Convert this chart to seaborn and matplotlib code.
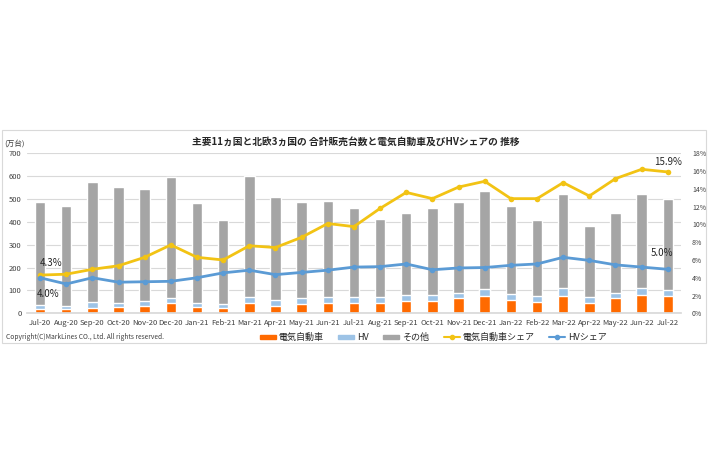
import numpy as np
import pandas as pd
import matplotlib
matplotlib.use('Agg')
import matplotlib.pyplot as plt
import matplotlib.patches as mpatches
from matplotlib.lines import Line2D
import seaborn as sns

# データ
months = ['Jul-20', 'Aug-20', 'Sep-20', 'Oct-20', 'Nov-20', 'Dec-20', 'Jan-21', 'Feb-21', 'Mar-21',
          'Apr-21', 'May-21', 'Jun-21', 'Jul-21', 'Aug-21', 'Sep-21', 'Oct-21', 'Nov-21', 'Dec-21',
          'Jan-22', 'Feb-22', 'Mar-22', 'Apr-22', 'May-22', 'Jun-22', 'Jul-22']
total = [485, 471, 573, 554, 545, 598, 481, 407, 600, 509, 487, 490, 462, 413, 440, 459, 487,
         534, 468, 410, 521, 381, 440, 521, 501]
ev = [19, 18, 24, 28, 30, 44, 28, 22, 44, 33, 41, 46, 44, 46, 55, 55, 66, 77, 58, 49, 76, 46, 66, 81, 77]
hv = [17, 15, 24, 18, 22, 22, 18, 19, 27, 27, 25, 25, 26, 24, 26, 26, 23, 29, 28, 25, 33, 26, 23, 28, 26]
ev_share = [4.3, 4.4, 4.95, 5.35, 6.3, 7.7, 6.3, 6.0, 7.6, 7.4, 8.55, 10.1, 9.75, 11.8, 13.6, 12.9,
            14.2, 14.85, 12.9, 12.9, 14.7, 13.2, 15.15, 16.2, 15.9]
hv_share = [4.0, 3.3, 4.0, 3.5, 3.55, 3.6, 4.0, 4.55, 4.85, 4.35, 4.6, 4.85, 5.2, 5.25, 5.55, 4.9,
            5.1, 5.15, 5.4, 5.55, 6.3, 5.95, 5.45, 5.2, 4.95]

df = pd.DataFrame({'month': months, 'total': total, 'ev': ev, 'hv': hv,
                   'ev_hv': np.array(ev) + np.array(hv),
                   'ev_share': ev_share, 'hv_share': hv_share})
df['pos'] = np.arange(len(df))

c_ev = '#FF6A00'
c_hv = '#9DC3E6'
c_other = '#A5A5A5'
c_evs = '#F2C314'
c_hvs = '#5B9BD5'

sns.set_theme(style='white')
plt.rcParams['font.family'] = ['Noto Sans CJK JP', 'DejaVu Sans']

fig = plt.figure(figsize=(7.1, 4.74), dpi=100)
ax = fig.add_axes([0.038, 0.339, 0.921, 0.3376])

# 積み上げ棒グラフ（合計 → EV+HV → EV の順に重ねる）
sns.barplot(data=df, x='month', y='total', color=c_other, width=0.4, saturation=1, ax=ax, zorder=2)
sns.barplot(data=df, x='month', y='ev_hv', color=c_hv, width=0.4, saturation=1, ax=ax, zorder=2)
sns.barplot(data=df, x='month', y='ev', color=c_ev, width=0.4, saturation=1, ax=ax, zorder=2)

ax.set_ylim(0, 700)
ax.set_yticks(range(0, 701, 100))
ax.set_xlim(-0.5, len(df) - 0.5)
ax.yaxis.grid(True, color='#D9D9D9', linewidth=0.8, zorder=0)
ax.set_axisbelow(True)
ax.set_xlabel('')
ax.set_ylabel('')
for s in ['top', 'right', 'left']:
    ax.spines[s].set_visible(False)
ax.spines['bottom'].set_color('#D9D9D9')
ax.tick_params(axis='both', labelsize=5.5, colors='#404040', length=0, pad=4)

# シェア（右軸）
ax2 = ax.twinx()
sns.lineplot(data=df, x='pos', y='ev_share', color=c_evs, linewidth=2, marker='o',
             markersize=4, markeredgewidth=0, ax=ax2, zorder=5)
sns.lineplot(data=df, x='pos', y='hv_share', color=c_hvs, linewidth=2, marker='o',
             markersize=4, markeredgewidth=0, ax=ax2, zorder=5)
ax2.set_ylim(0, 18)
ax2.set_yticks(range(0, 19, 2))
ax2.set_yticklabels([f'{v}%' for v in range(0, 19, 2)])
ax2.set_xlim(-0.5, len(df) - 0.5)
ax2.set_ylabel('')
ax2.set_xlabel('')
for s in ['top', 'right', 'left', 'bottom']:
    ax2.spines[s].set_visible(False)
ax2.tick_params(axis='y', labelsize=5, colors='#404040', length=0, pad=8)
ax2.grid(False)

# ラベル
lab = dict(fontsize=7, color='#262626', ha='center', va='center')
arrow = dict(arrowstyle='-', color='#A6A6A6', lw=0.6, shrinkA=0, shrinkB=3)
ax2.annotate(f'{ev_share[0]}%', xy=(0, ev_share[0]), xytext=(8, 9), textcoords='offset points',
             arrowprops=arrow, **lab)
ax2.annotate(f'{hv_share[0]:.1f}%', xy=(0, hv_share[0]), xytext=(6, -12), textcoords='offset points',
             arrowprops=arrow, **lab)
ax2.annotate(f'{ev_share[-1]}%', xy=(24, ev_share[-1]), xytext=(0, 7.5), textcoords='offset points', **lab)
ax2.annotate('5.0%', xy=(24, hv_share[-1]), xytext=(-4, 11.5), textcoords='offset points',
             arrowprops=arrow, **lab)

# タイトルなど
fig.text(0.501, 0.70, '主要11ヵ国と北欧3ヵ国の 合計販売台数と電気自動車及びHVシェアの 推移',
         ha='center', va='center', fontsize=7, fontweight='bold', color='#262626')
fig.text(0.006, 0.697, '(万台)', ha='left', va='center', fontsize=5.5, color='#404040')
fig.text(0.008, 0.288, 'Copyright(C)MarkLines CO., Ltd. All rights reserved.', ha='left', va='center',
         fontsize=4.8, color='#404040')

handles = [mpatches.Patch(color=c_ev), mpatches.Patch(color=c_hv), mpatches.Patch(color=c_other),
           Line2D([], [], color=c_evs, lw=1.5, marker='o', markersize=3),
           Line2D([], [], color=c_hvs, lw=1.5, marker='o', markersize=3)]
labels = ['電気自動車', 'HV', 'その他', '電気自動車シェア', 'HVシェア']
fig.legend(handles, labels, loc='center', bbox_to_anchor=(0.61, 0.288), ncol=5, frameon=False,
           fontsize=6.5, handlelength=1.8, handleheight=0.35, columnspacing=1.6, handletextpad=0.3)

# 外枠
fig.patches.append(mpatches.Rectangle((0.003, 0.276), 0.991, 0.449, transform=fig.transFigure,
                                      fill=False, edgecolor='#D9D9D9', linewidth=0.8))

fig.savefig('out.png', dpi=100, facecolor='white')
